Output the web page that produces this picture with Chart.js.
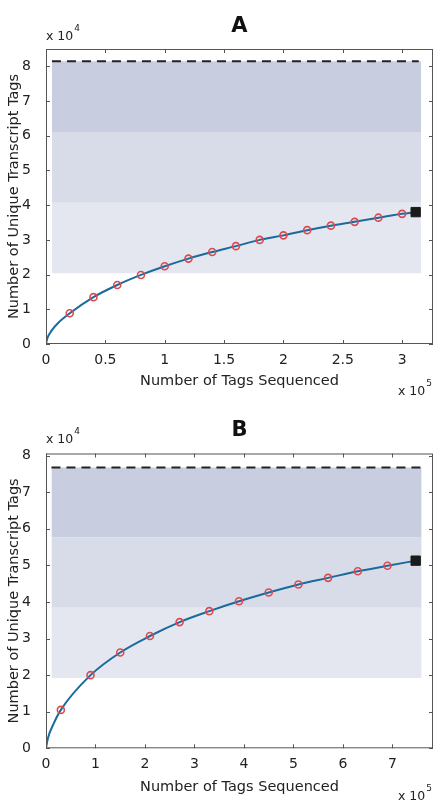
<!DOCTYPE html>
<html>
<head>
<meta charset="utf-8">
<script src="https://cdn.jsdelivr.net/npm/chart.js@4.4.0/dist/chart.umd.min.js"></script>
<style>
  html, body { margin: 0; padding: 0; background: #fff; }
  .panel { position: absolute; left: 0; width: 442px; }
  #wrapA { top: 0; height: 400px; }
  #wrapB { top: 400px; height: 404px; }
</style>
</head>
<body>
<div class="panel" id="wrapA"><canvas id="chartA"></canvas></div>
<div class="panel" id="wrapB"><canvas id="chartB"></canvas></div>
<script>
// units: x = tags sequenced (x 10^5), y = unique transcript tags (x 10^4)

// panel A
const aTagsX = [0.2, 0.4, 0.6, 0.8, 1.0, 1.2, 1.4, 1.6, 1.8, 2.0, 2.2, 2.4, 2.6, 2.8, 3.0];
const aUniqueY = [0.885, 1.35, 1.70, 1.99, 2.24, 2.46, 2.65, 2.82, 3.00, 3.13, 3.28, 3.41, 3.52, 3.64, 3.75];
const aStartX = [0, 0.01, 0.05, 0.1];     // curve near the origin
const aStartY = [0, 0.15, 0.40, 0.60];
const aFinalX = 3.114, aFinalY = 3.80;    // all tags (black square)
const aSaturation = 8.15;                 // dashed line
const aBands = [2.04, 4.07, 6.11, 8.15];
const aBandX = [0.05, 3.16];
const aXTicks = [0, 0.5, 1, 1.5, 2, 2.5, 3];
const aYTicks = [0, 1, 2, 3, 4, 5, 6, 7, 8];
const aXMax = 3.26, aYMax = 8.5;

// panel B
const bTagsX = [0.3, 0.9, 1.5, 2.1, 2.7, 3.3, 3.9, 4.5, 5.1, 5.7, 6.3, 6.9];
const bUniqueY = [1.05, 2.00, 2.62, 3.07, 3.45, 3.75, 4.02, 4.26, 4.48, 4.66, 4.84, 4.99];
const bStartX = [0, 0.04, 0.15];
const bStartY = [0, 0.28, 0.66];
const bFinalX = 7.47, bFinalY = 5.13;
const bSaturation = 7.68;
const bBands = [1.92, 3.84, 5.76, 7.68];
const bBandX = [0.11, 7.59];
const bXTicks = [0, 1, 2, 3, 4, 5, 6, 7];
const bYTicks = [0, 1, 2, 3, 4, 5, 6, 7, 8];
const bXMax = 7.82, bYMax = 8.06;

const bandColors = ['#e4e7ef', '#d8dce8', '#c8cde0'];
const curveColor = '#1a6a9c';
const markerColor = '#dc4a50';

Chart.defaults.font.family = "'DejaVu Sans', sans-serif";
Chart.defaults.color = '#222';

const pts = (xs, ys) => xs.map((x, i) => ({x: x, y: ys[i]}));

// box round the plot, inward ticks on all four sides, "x 10^n" labels
const frame = {
  id: 'frame',
  afterDraw(chart, args, o) {
    const {ctx, chartArea: a, scales: {x, y}} = chart;
    ctx.save();
    ctx.strokeStyle = '#555';
    ctx.lineWidth = 1;
    ctx.strokeRect(a.left + 0.5, a.top + 0.5, a.width - 1, a.height - 1);
    ctx.beginPath();
    x.ticks.forEach(t => {
      const px = Math.round(x.getPixelForValue(t.value)) + 0.5;
      ctx.moveTo(px, a.bottom); ctx.lineTo(px, a.bottom - 4);
      ctx.moveTo(px, a.top); ctx.lineTo(px, a.top + 4);
    });
    y.ticks.forEach(t => {
      const py = Math.round(y.getPixelForValue(t.value)) + 0.5;
      ctx.moveTo(a.left, py); ctx.lineTo(a.left + 4, py);
      ctx.moveTo(a.right, py); ctx.lineTo(a.right - 4, py);
    });
    ctx.stroke();

    ctx.fillStyle = '#222';
    ctx.textBaseline = 'alphabetic';
    ctx.textAlign = 'left';
    const exp = (pos, e) => {
      ctx.font = "12.5px 'DejaVu Sans'";
      ctx.fillText('x 10', pos[0], pos[1]);
      const w = ctx.measureText('x 10').width;
      ctx.font = "9px 'DejaVu Sans'";
      ctx.fillText(e, pos[0] + w + 1, pos[1] - 9);
    };
    exp(o.yExpPos, o.yExp);
    exp(o.xExpPos, o.xExp);
    ctx.restore();
  }
};

function makePanel(id, d, L) {
  const bands = [];
  for (let i = 0; i < 3; i++) {
    bands.push({
      data: [{x: d.bandX[0], y: d.bands[i + 1]}, {x: d.bandX[1], y: d.bands[i + 1]}],
      fill: {value: d.bands[i]},
      backgroundColor: bandColors[i],
      borderColor: 'rgba(0,0,0,0)',
      pointRadius: 0,
      order: 5
    });
  }
  const curveX = d.startX.concat(d.tagsX, [d.finalX]);
  const curveY = d.startY.concat(d.uniqueY, [d.finalY]);

  return new Chart(document.getElementById(id), {
    type: 'line',
    data: {
      datasets: [
        {
          data: pts(d.tagsX, d.uniqueY),
          showLine: false,
          pointStyle: 'circle',
          pointRadius: 3.5,
          pointBorderWidth: 1.6,
          pointBorderColor: markerColor,
          pointBackgroundColor: 'rgba(0,0,0,0)',
          order: 0
        },
        {
          data: [{x: d.finalX, y: d.finalY}],
          showLine: false,
          pointStyle: 'rect',
          pointRadius: 6.6,
          pointBorderWidth: 1,
          pointBorderColor: '#1a1a1a',
          pointBackgroundColor: '#1a1a1a',
          order: 0
        },
        {
          data: pts(curveX, curveY),
          borderColor: curveColor,
          borderWidth: 2,
          pointRadius: 0,
          cubicInterpolationMode: 'monotone',
          fill: false,
          order: 1
        },
        {
          data: [{x: d.bandX[0], y: d.saturation}, {x: d.bandX[1] - 0.02, y: d.saturation}],
          borderColor: '#222',
          borderWidth: 2,
          borderDash: [9, 6],
          pointRadius: 0,
          fill: false,
          order: 2
        }
      ].concat(bands)
    },
    options: {
      responsive: true,
      maintainAspectRatio: false,
      animation: false,
      layout: {padding: {top: 0, left: 0, right: 9, bottom: 0}},
      plugins: {
        legend: {display: false},
        tooltip: {enabled: false},
        title: {
          display: true,
          text: d.title,
          fullSize: false,
          color: '#111',
          font: {size: 21, weight: 'bold'},
          padding: {top: L.titleTop, bottom: L.titleBottom}
        },
        frame: L.frame
      },
      scales: {
        x: {
          type: 'linear',
          min: 0,
          max: d.xMax,
          grid: {display: false},
          border: {display: false},
          afterBuildTicks: s => { s.ticks = d.xTicks.map(v => ({value: v})); },
          afterFit: s => { s.height = L.xHeight; },
          ticks: {font: {size: 14}, padding: 0, maxRotation: 0, includeBounds: false, callback: v => String(v)},
          title: {display: true, text: 'Number of Tags Sequenced', font: {size: 14.5}, padding: {top: 0, bottom: L.xTitlePad}}
        },
        y: {
          type: 'linear',
          min: 0,
          max: d.yMax,
          grid: {display: false},
          border: {display: false},
          afterBuildTicks: s => { s.ticks = d.yTicks.map(v => ({value: v})); },
          afterFit: s => { s.width = 46; },
          ticks: {font: {size: 14}, padding: 7, includeBounds: false, callback: v => String(v)},
          title: {display: true, text: 'Number of Unique Transcript Tags', font: {size: 14.5}, padding: {top: 6, bottom: 0}}
        }
      }
    },
    plugins: [frame]
  });
}

makePanel('chartA', {
  title: 'A', tagsX: aTagsX, uniqueY: aUniqueY, startX: aStartX, startY: aStartY,
  finalX: aFinalX, finalY: aFinalY, saturation: aSaturation, bands: aBands, bandX: aBandX,
  xTicks: aXTicks, yTicks: aYTicks, xMax: aXMax, yMax: aYMax
}, {
  titleTop: 14.4, titleBottom: 9.4, xHeight: 56, xTitlePad: 10.4,
  frame: {yExp: '4', xExp: '5', yExpPos: [46, 40], xExpPos: [398, 395]}
});

makePanel('chartB', {
  title: 'B', tagsX: bTagsX, uniqueY: bUniqueY, startX: bStartX, startY: bStartY,
  finalX: bFinalX, finalY: bFinalY, saturation: bSaturation, bands: bBands, bandX: bBandX,
  xTicks: bXTicks, yTicks: bYTicks, xMax: bXMax, yMax: bYMax
}, {
  titleTop: 18.4, titleBottom: 9.9, xHeight: 55.7, xTitlePad: 8.4,
  frame: {yExp: '4', xExp: '5', yExpPos: [46, 43], xExpPos: [398, 400]}
});
</script>
</body>
</html>
